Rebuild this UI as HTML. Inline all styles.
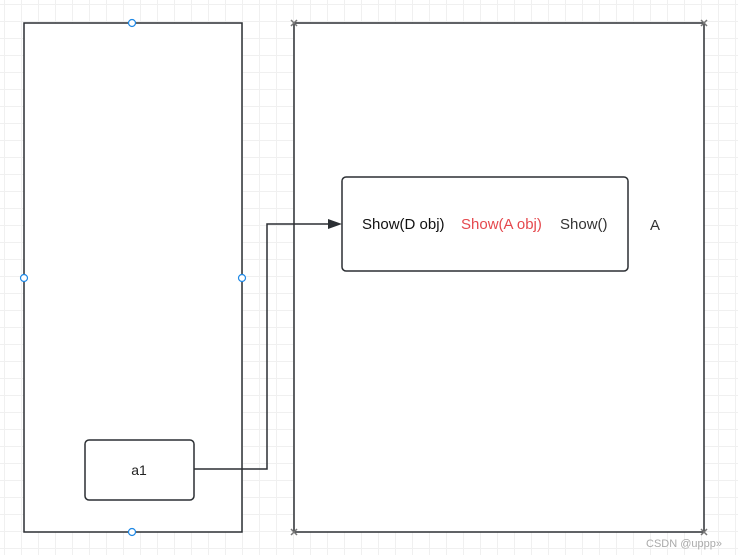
<!DOCTYPE html>
<html><head><style>
html,body{margin:0;padding:0;}
body{width:738px;height:555px;overflow:hidden;background-color:#fff;
background-image:linear-gradient(#f0f0f0 1px,transparent 1px),linear-gradient(90deg,#f0f0f0 1px,transparent 1px);
background-size:17px 17px;background-position:4px 4px;}
</style></head><body>
<svg width="738" height="555" style="position:absolute;left:0;top:0" font-family="Liberation Sans, sans-serif">
<rect x="24" y="23" width="218" height="509" fill="#fff" stroke="#2b2f33" stroke-width="1.5"/>
<rect x="294" y="23" width="410" height="509" fill="#fff" stroke="#2b2f33" stroke-width="1.5"/>
<rect x="342" y="177" width="286" height="94" rx="4" fill="#fff" stroke="#2b2f33" stroke-width="1.5"/>
<rect x="85" y="440" width="109" height="60" rx="4" fill="#fff" stroke="#2b2f33" stroke-width="1.5"/>
<text x="139" y="475" font-size="14" text-anchor="middle" fill="#222">a1</text>
<text x="362" y="229" font-size="15" fill="#111">Show(D obj)</text>
<text x="461" y="229" font-size="15" fill="#e5484d">Show(A obj)</text>
<text x="560" y="229" font-size="15" fill="#333">Show()</text>
<text x="650" y="230" font-size="15" fill="#333">A</text>
<polyline points="194,469 267,469 267,224 330,224" fill="none" stroke="#2b2f33" stroke-width="1.5"/>
<polygon points="342,224 328,219 328,229" fill="#2b2f33"/>
<g fill="#fff" stroke="#1e88e5" stroke-width="1.2">
<circle cx="132" cy="23" r="3.5"/><circle cx="132" cy="532" r="3.5"/>
<circle cx="24" cy="278" r="3.5"/><circle cx="242" cy="278" r="3.5"/>
</g>
<g stroke="#777" stroke-width="1.5">
<path d="M291,20l6,6M297,20l-6,6"/><path d="M701,20l6,6M707,20l-6,6"/>
<path d="M291,529l6,6M297,529l-6,6"/><path d="M701,529l6,6M707,529l-6,6"/>
</g>
<text x="646" y="547" font-size="11" fill="#aaa">CSDN @uppp»</text>
</svg>
</body></html>
